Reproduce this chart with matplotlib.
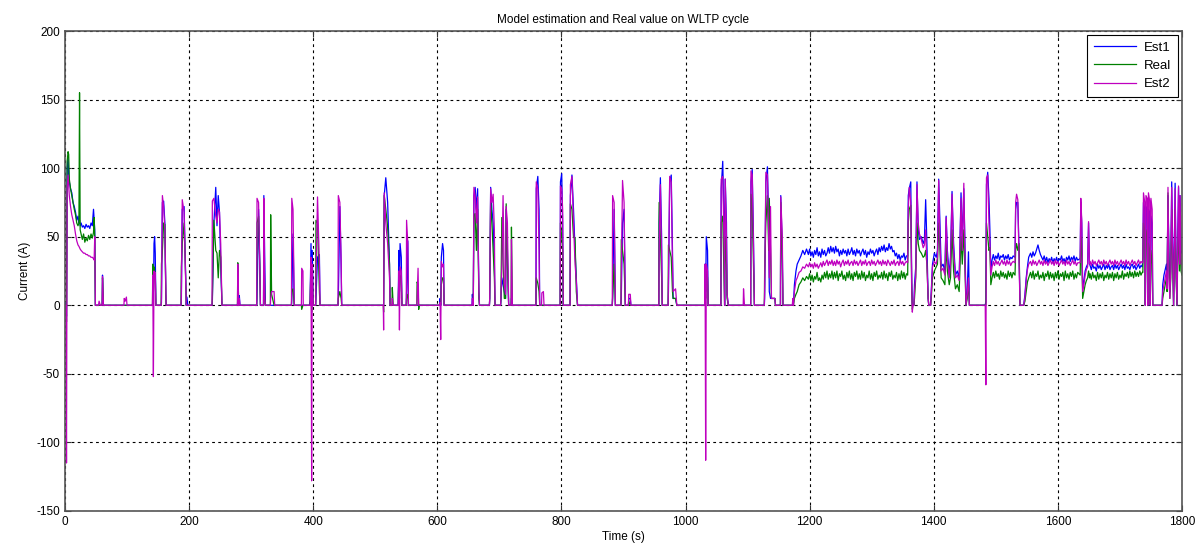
import matplotlib
matplotlib.use("Agg")
import matplotlib.pyplot as plt

plt.rcParams['font.family'] = ['Liberation Sans', 'DejaVu Sans']
plt.rcParams['axes.unicode_minus'] = False

# Values, grouped per burst (same line layout in every list)
time_s = [
    0, 1.5, 2.5, 3.5, 5, 6, 7, 9, 11, 13, 15, 17, 19, 21, 22.5, 23.5, 24.5, 26, 28, 30, 32, 34, 36, 38, 40, 42, 44, 46, 47, 48, 49, 49.5,
    54, 55, 57, 60, 60.5, 62, 95, 95.5, 97, 99, 100,
    141, 141.5, 142.5, 143.5, 144.5, 145.5, 146.5,
    155, 155.5, 157, 159, 161, 162.5, 163,
    187, 187.5, 189, 192, 194, 195.5, 196.5, 198,
    237, 237.5, 240, 243, 245, 247, 249, 251, 253,
    278, 278.5, 280, 281, 282,
    309, 309.5, 312, 314, 315, 320, 320.5, 322, 323,
    331, 331.5, 333, 337, 338,
    365, 365.5, 367.5, 369.5,
    381, 381.5, 383.5, 384,
    394, 395, 396.5, 397.5, 398.5, 400,
    404, 404.5, 407, 410, 411,
    440, 440.5, 443, 445, 446,
    513, 513.5, 514.5, 517, 520, 523, 524, 527, 527.5, 529,
    537, 538, 539, 540, 542, 543, 550, 550.5, 552.5, 553.5, 567, 567.5, 569, 570, 571,
    604, 604.5, 605.5, 606.5, 608.5, 610, 611,
    656, 656.5, 658, 659, 661, 663, 665, 667, 668,
    684, 684.5, 686, 688, 690, 692, 693,
    702, 702.5, 704, 706, 708, 710, 711, 713, 715, 719, 719.5, 721,
    759, 759.5, 762, 764, 765, 768, 768.5, 771, 772,
    798, 798.5, 800.5, 802, 803,
    814, 814.5, 817, 819.5, 822, 824, 826,
    882, 882.5, 885, 887, 896, 896.5, 898.5, 901, 903, 908, 908.5, 911, 912,
    957, 957.5, 959.5, 961.5, 962.5, 972, 972.5, 974.5, 977, 979, 980, 984, 986,
    1031, 1031.5, 1032.5, 1033.5, 1035.5, 1036.5,
    1057, 1057.5, 1060, 1062, 1063, 1064, 1066, 1067, 1069,
    1093, 1093.5, 1095, 1105, 1105.5, 1107.5, 1109.5, 1111,
    1127, 1127.5, 1129.5, 1132, 1134, 1135, 1137, 1138.5, 1144, 1145, 1153, 1153.5, 1156, 1157,
    1172, 1173, 1174, 1175.5, 1178, 1180, 1183, 1186, 1189, 1192, 1195, 1198,
    1200, 1202, 1204, 1206, 1208, 1210, 1212, 1214, 1216, 1218, 1220, 1222, 1224, 1226, 1228, 1230, 1232, 1234, 1236, 1238,
    1240, 1242, 1244, 1246, 1248, 1250, 1252, 1254, 1256, 1258, 1260, 1262, 1264, 1266, 1268, 1270, 1272, 1274, 1276, 1278,
    1280, 1282, 1284, 1286, 1288, 1290, 1292, 1294, 1296, 1298, 1300, 1302, 1304, 1306, 1308, 1310, 1312, 1314, 1316, 1318,
    1320, 1322, 1324, 1326, 1328, 1330, 1332, 1334, 1336, 1338, 1340, 1342, 1344, 1346, 1348, 1350, 1352, 1354, 1356,
    1358, 1359, 1360.5, 1363, 1364.5, 1365.5, 1366.5, 1368, 1369, 1371, 1373, 1375, 1377, 1380, 1383, 1385, 1387, 1389, 1391, 1392,
    1395, 1396, 1398, 1401, 1404, 1406, 1408, 1410, 1412, 1415, 1418, 1420, 1422, 1425, 1427, 1429.5, 1432, 1435, 1438, 1441, 1444, 1446, 1448.5, 1450.5, 1452, 1454, 1456, 1457.5,
    1483, 1484, 1485, 1487, 1489, 1490.5, 1492, 1494,
    1496, 1498, 1500, 1502, 1504, 1506, 1508, 1510, 1512, 1514, 1516, 1518, 1520, 1522, 1524, 1526, 1528,
    1531, 1532, 1533.5, 1535.5, 1537.5, 1539, 1545, 1547, 1549, 1551, 1553,
    1556, 1558, 1560, 1562, 1564, 1566, 1568, 1570, 1572, 1574, 1576, 1578, 1580, 1582, 1584, 1586, 1588, 1590, 1592, 1594,
    1596, 1598, 1600, 1602, 1604, 1606, 1608, 1610, 1612, 1614, 1616, 1618, 1620, 1622, 1624, 1626, 1628, 1630, 1632,
    1636, 1637, 1638.5, 1640, 1642, 1644, 1646, 1648, 1649.5, 1651,
    1652, 1654, 1656, 1658, 1660, 1662, 1664, 1666, 1668, 1670, 1672, 1674, 1676, 1678, 1680, 1682, 1684, 1686, 1688, 1690,
    1692, 1694, 1696, 1698, 1700, 1702, 1704, 1706, 1708, 1710, 1712, 1714, 1716, 1718, 1720, 1722, 1724, 1726, 1728, 1730,
    1732, 1734, 1736,
    1737, 1738, 1740, 1741, 1742, 1744, 1745, 1746, 1748, 1749, 1750, 1752, 1753,
    1768, 1769, 1771, 1773, 1775, 1776, 1777.5, 1779, 1780.5, 1782, 1783.5, 1785, 1786.5, 1787.5, 1789, 1790.5, 1792, 1793, 1794.5, 1796, 1797, 1798.5, 1800,
]

est1_a = [
    0, 2, -8, 100, 108, 95, 90, 85, 82, 75, 72, 68, 62, 65, 60, 62, 58, 60, 57, 58, 56, 59, 57, 58, 56, 60, 58, 70, 63, 55, 0, 0,
    0, 0, 0, 0, 22, 0, 0, 0, 0, 0, 0,
    0, 3, 0, 45, 50, 38, 0,
    0, 2, 75, 76, 60, 8, 0,
    0, 0, 70, 72, 30, 0, 6, 0,
    0, 2, 60, 86, 58, 80, 68, 30, 0,
    0, 5, 0, 7, 0,
    0, 5, 70, 30, 0, 0, 80, 30, 0,
    0, 0, 0, 0, 0,
    0, 5, 52, 0,
    0, 0, 0, 0,
    0, 3, 45, 2, 40, 0,
    0, 5, 35, 37, 0,
    0, 5, 72, 30, 0,
    0, 0, 80, 93, 75, 30, 0, 0, 0, 0,
    0, 40, 10, 45, 35, 0, 0, 10, 47, 0, 0, 0, 0, 0, 0,
    0, 5, 0, 35, 45, 40, 0,
    0, 8, 0, 80, 86, 70, 85, 10, 0,
    0, 5, 86, 70, 60, 30, 0,
    0, 3, 20, 15, 10, 5, 70, 40, 0, 0, 5, 0,
    0, 85, 94, 70, 0, 0, 0, 0, 0,
    0, 90, 96, 60, 0,
    0, 80, 95, 70, 40, 20, 0,
    0, 5, 70, 0, 0, 5, 60, 70, 0, 0, 5, 5, 0,
    0, 60, 93, 50, 0, 0, 10, 90, 95, 40, 5, 5, 0,
    0, 30, 10, 50, 40, 0,
    0, 85, 105, 60, 0, 92, 60, 8, 0,
    0, 0, 0, 0, 90, 99, 50, 0,
    0, 5, 90, 101, 60, 10, 5, 5, 5, 0, 0, 80, 40, 0,
    0, 0, 2, 15, 25, 30, 33, 36, 40, 37, 41, 37,
    41, 36, 39, 35, 40, 37, 42, 36, 39, 35, 41, 37, 40, 36, 38, 42, 38, 43, 39, 42,
    38, 43, 39, 41, 36, 40, 37, 41, 38, 40, 36, 41, 37, 39, 42, 37, 40, 36, 41, 38,
    40, 36, 39, 41, 37, 40, 35, 39, 37, 41, 38, 40, 36, 39, 41, 37, 42, 39, 43, 40,
    44, 39, 42, 40, 45, 41, 43, 39, 40, 36, 38, 34, 37, 33, 36, 35, 38, 33, 36,
    36, 80, 85, 90, 20, 0, 0, 0, 15, 28, 90, 55, 48, 50, 45, 48, 77, 45, 5, 0,
    0, 10, 30, 38, 35, 40, 92, 60, 28, 30, 25, 65, 40, 22, 35, 83, 45, 22, 25, 20, 82, 45, 85, 40, 0, 10, 39, 0,
    0, 3, 88, 97, 78, 55, 25, 33,
    37, 33, 36, 34, 38, 33, 36, 35, 37, 33, 36, 34, 37, 33, 35, 34, 36,
    35, 70, 75, 75, 40, 0, 0, 8, 20, 28, 35,
    38, 35, 39, 36, 38, 41, 44, 40, 37, 35, 33, 36, 32, 35, 31, 34, 32, 35, 31, 34,
    32, 35, 31, 34, 33, 36, 32, 34, 31, 35, 33, 36, 32, 35, 33, 36, 32, 35, 33,
    34, 75, 60, 12, 18, 25, 28, 30, 60, 30,
    29, 26, 30, 27, 28, 25, 30, 27, 29, 26, 28, 30, 26, 29, 27, 30, 26, 28, 29, 26,
    30, 27, 29, 26, 28, 30, 27, 29, 26, 30, 27, 28, 26, 29, 30, 27, 29, 26, 28, 30,
    27, 29, 28,
    35, 75, 70, 0, 72, 70, 0, 70, 68, 0, 65, 60, 0,
    0, 15, 22, 26, 30, 15, 80, 40, 10, 30, 90, 45, 0, 35, 89, 30, 0, 40, 86, 40, 80, 40, 38,
]

real_a = [
    0, 0, -12, 105, 112, 110, 92, 85, 80, 75, 70, 66, 60, 58, 60, 155, 55, 52, 48, 52, 46, 49, 47, 51, 48, 52, 49, 53, 64, 50, 0, 0,
    0, 0, 0, 0, 20, 0, 0, 0, 0, 0, 0,
    0, 30, 10, 28, 25, 24, 0,
    0, 30, 40, 60, 59, 8, 0,
    0, 28, 45, 60, 30, 0, 0, 0,
    0, 5, 62, 40, 38, 20, 40, 35, 0,
    0, 31, 0, 0, 0,
    0, 60, 65, 28, 0, 0, 50, 5, 0,
    0, 66, 8, 0, 0,
    0, 10, 12, 0,
    0, -3, 0, 0,
    0, 0, 30, -5, 25, 0,
    0, 62, 60, 10, 0,
    0, 5, 10, 5, 0,
    0, -5, 80, 70, 57, 30, 0, 0, 13, 0,
    0, 20, 5, 22, 20, 0, 0, 5, 8, 0, 0, 17, 15, -3, 0,
    0, 0, 0, 15, 20, 20, 0,
    0, 0, 0, 65, 67, 40, 70, 5, 0,
    0, 5, 78, 60, 40, 20, 0,
    0, 5, 64, 30, 5, 5, 74, 30, 0, 0, 57, 0,
    0, 20, 16, 10, 0, 0, 0, 0, 0,
    0, 60, 50, 40, 0,
    0, 74, 70, 50, 49, 10, 0,
    0, 5, 30, 0, 0, 48, 40, 30, 0, 0, 3, 0, 0,
    0, 75, 50, 20, 0, 0, 44, 40, 35, 10, 5, 5, 0,
    0, 20, 5, 28, 20, 0,
    0, 60, 65, 20, 0, 50, 30, 5, 0,
    0, 0, 0, 0, 81, 70, 30, 0,
    0, 24, 60, 80, 40, 78, 40, 5, 5, 0, 0, 75, 30, 0,
    0, 0, 0, 5, 8, 10, 15, 17, 20, 18, 21, 19,
    23, 18, 22, 17, 21, 19, 24, 18, 20, 17, 22, 19, 24, 20, 25, 19, 23, 20, 25, 19,
    24, 20, 25, 18, 23, 21, 25, 19, 22, 18, 24, 20, 25, 19, 23, 18, 24, 21, 25, 19,
    23, 19, 25, 20, 24, 18, 22, 20, 25, 19, 23, 18, 24, 21, 25, 19, 22, 20, 24, 19,
    25, 20, 23, 18, 24, 21, 25, 19, 22, 20, 24, 18, 23, 19, 25, 20, 24, 19, 23,
    22, 60, 70, 73, 10, -3, 0, 0, 5, 20, 60, 45, 40, 38, 35, 36, 40, 30, 5, 0,
    0, 5, 20, 25, 28, 30, 60, 40, 20, 18, 15, 45, 25, 15, 20, 55, 25, 12, 15, 10, 50, 30, 55, 25, 0, 5, 15, 0,
    0, 0, 60, 50, 40, 42, 15, 20,
    24, 20, 25, 21, 23, 19, 25, 21, 24, 20, 23, 19, 25, 21, 24, 20, 24,
    22, 40, 45, 40, 45, 0, 0, 3, 10, 17, 20,
    24, 20, 25, 19, 23, 21, 25, 19, 22, 20, 24, 18, 23, 21, 25, 19, 24, 20, 23, 18,
    24, 20, 25, 19, 23, 21, 24, 18, 25, 20, 23, 19, 24, 21, 25, 19, 23, 20, 24,
    22, 50, 40, 5, 10, 15, 18, 20, 25, 20,
    23, 19, 24, 20, 22, 18, 24, 19, 23, 20, 24, 18, 22, 20, 24, 19, 23, 20, 24, 18,
    23, 20, 24, 19, 22, 20, 25, 19, 23, 21, 24, 20, 25, 21, 24, 20, 25, 21, 24, 21,
    25, 22, 24,
    24, 60, 55, 0, 55, 50, 0, 45, 40, 0, 40, 30, 0,
    0, 5, 10, 15, 20, 10, 82, 30, 5, 20, 70, 35, 0, 25, 70, 20, 0, 30, 60, 25, 60, 25, 22,
]

est2_a = [
    0, 0, -115, 85, 95, 88, 80, 72, 66, 62, 58, 52, 47, 44, 43, 42, 41, 40, 39, 38, 38, 37, 37, 36, 36, 35, 35, 34, 33, 50, 0, 0,
    0, 3, 0, 0, 21, 0, 0, 5, 3, 6, 0,
    0, 22, -52, 25, 20, 24, 0,
    0, 5, 80, 72, 55, 10, 0,
    0, 5, 77, 68, 27, 0, 0, 0,
    0, 76, 78, 65, 60, 70, 68, 45, 0,
    0, 30, 0, 5, 0,
    0, 78, 75, 25, 0, 0, 78, 5, 0,
    0, 5, 10, 10, 0,
    0, 78, 70, 0,
    0, 27, 25, 0,
    0, 0, 35, -128, 30, 0,
    0, 20, 79, 30, 0,
    0, 80, 75, 33, 0,
    0, -18, 82, 60, 45, 20, 0, 0, 5, 0,
    0, 25, -18, 28, 25, 0, 0, 62, 45, 0, 0, 5, 27, 0, 0,
    0, 2, -25, 32, 28, 30, 0,
    0, 5, 0, 86, 80, 60, 79, 10, 0,
    0, 5, 85, 75, 81, 55, 0,
    0, 6, 30, 80, 15, 8, 72, 60, 0, 0, 48, 0,
    0, 90, 85, 40, 0, 0, 9, 10, 0,
    0, 87, 85, 70, 0,
    0, 88, 94, 60, 30, 18, 0,
    0, 80, 75, 0, 0, 20, 91, 75, 0, 0, 8, 8, 0,
    0, 40, 88, 35, 0, 0, 20, 94, 90, 30, 10, 12, 0,
    0, 30, -113, 30, 25, 0,
    0, 92, 94, 50, 0, 92, 50, 8, 0,
    0, 12, 0, 0, 98, 95, 44, 0,
    0, 10, 97, 95, 50, 20, 72, 5, 5, 0, 0, 79, 50, 0,
    0, 5, 0, 10, 18, 20, 24, 25, 28, 27, 30, 28,
    31, 28, 30, 27, 31, 28, 30, 27, 29, 31, 28, 32, 29, 31, 33, 29, 32, 30, 33, 29,
    32, 29, 33, 30, 32, 28, 31, 33, 29, 32, 30, 33, 29, 31, 32, 29, 33, 30, 32, 29,
    31, 33, 29, 32, 30, 33, 29, 31, 32, 29, 33, 30, 32, 29, 31, 33, 30, 32, 29, 33,
    30, 32, 29, 33, 31, 29, 32, 30, 33, 29, 31, 32, 29, 33, 30, 32, 29, 31, 32,
    31, 70, 86, 75, 15, -5, 0, 0, 10, 22, 88, 60, 52, 48, 42, 44, 55, 30, 5, 0,
    0, 8, 28, 32, 30, 35, 91, 45, 25, 27, 22, 64, 35, 20, 30, 81, 40, 20, 22, 18, 78, 40, 89, 30, 0, 8, 20, 0,
    0, -58, 93, 95, 60, 45, 22, 28,
    32, 29, 33, 30, 32, 29, 31, 33, 30, 32, 29, 33, 30, 32, 29, 31, 32,
    31, 75, 81, 77, 35, 0, 0, 6, 18, 26, 30,
    32, 29, 33, 30, 32, 29, 31, 33, 30, 32, 29, 33, 30, 32, 29, 31, 33, 30, 32, 29,
    33, 30, 32, 29, 31, 33, 30, 32, 29, 33, 30, 32, 29, 31, 33, 30, 32, 29, 31,
    31, 78, 62, 10, 15, 22, 26, 28, 61, 30,
    32, 29, 33, 30, 32, 29, 31, 33, 30, 32, 29, 33, 30, 32, 29, 31, 33, 30, 32, 29,
    33, 30, 32, 29, 31, 33, 30, 32, 29, 33, 30, 32, 29, 31, 33, 30, 32, 29, 31, 33,
    30, 32, 31,
    31, 82, 75, 0, 80, 78, 0, 82, 76, 0, 78, 70, 0,
    0, 10, 15, 20, 25, 12, 86, 20, 5, 25, 86, 40, 0, 30, 85, 25, 0, 35, 87, 30, 80, 30, 30,
]

series_names = ['Est1', 'Real', 'Est2']
series_colors = ['b', 'g', 'm']

print(len(time_s), len(est1_a), len(real_a), len(est2_a))

fig = plt.figure(figsize=(12.03, 5.45), dpi=100)
ax = fig.add_axes([0.054, 0.0624, 0.9285, 0.8807])

for vals, name, col in zip([est1_a, real_a, est2_a], series_names, series_colors):
    ax.plot(time_s, vals, color=col, linewidth=0.9, label=name)

ax.set_xlim(0, 1800)
ax.set_ylim(-150, 200)
ax.set_xticks(range(0, 1801, 200))
ax.set_yticks(range(-150, 201, 50))
ax.tick_params(direction='in', top=True, right=True, labelsize=8.5, length=4, color='#333333')
ax.grid(True, color='black', linestyle=(0, (2.5, 3)), linewidth=0.8)
for sp in ax.spines.values():
    sp.set_color('#555555')
    sp.set_linewidth(1.2)

ax.set_title('Model estimation and Real value on WLTP cycle', fontsize=8.5, pad=6)
ax.set_xlabel('Time (s)', fontsize=8.5, labelpad=2)
ax.set_ylabel('Current (A)', fontsize=8.5, labelpad=4)

leg = ax.legend(loc='upper right', fontsize=9.5, fancybox=False, framealpha=1,
                edgecolor='black', handlelength=3.2, borderaxespad=0.3,
                labelspacing=0.45, handletextpad=0.6, borderpad=0.5)
leg.get_frame().set_linewidth(0.8)

fig.savefig('out.png', dpi=100)
